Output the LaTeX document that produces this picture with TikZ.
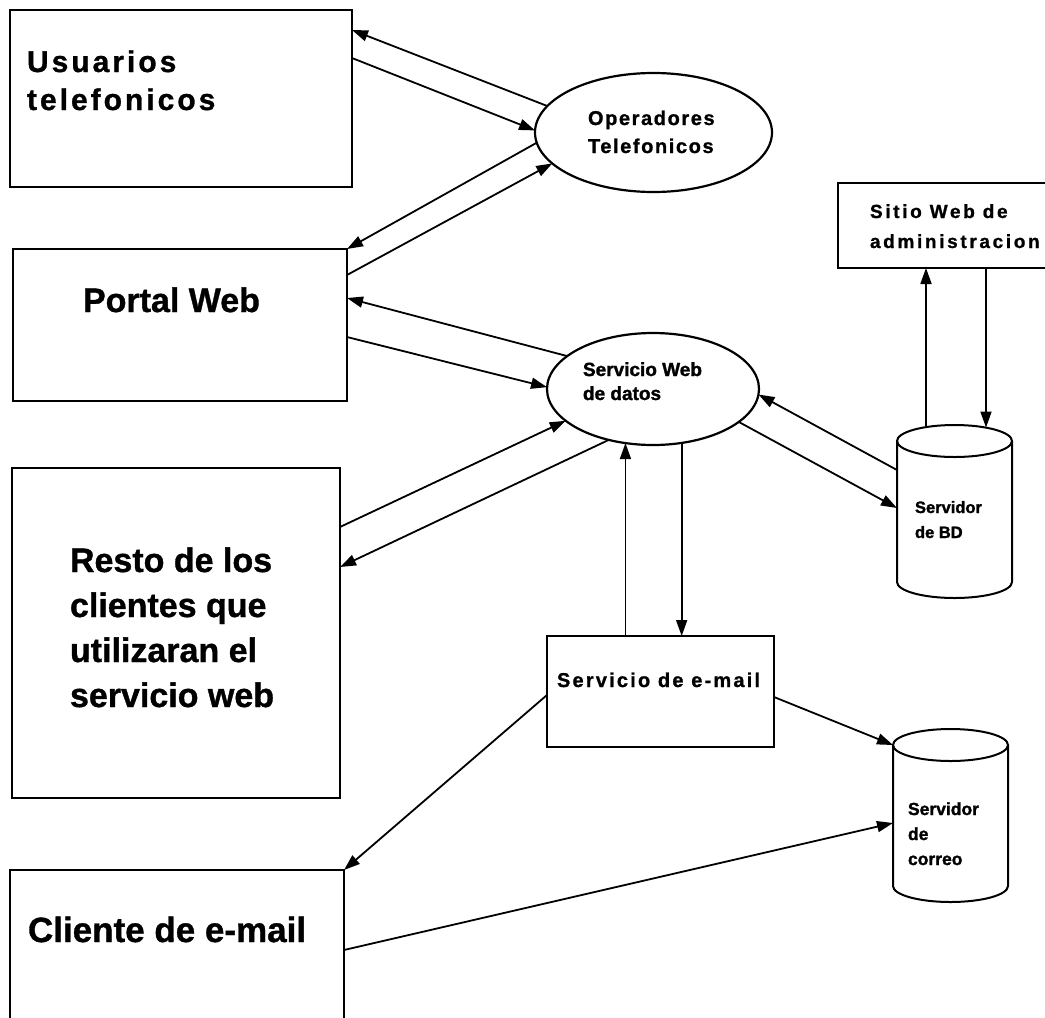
\documentclass[tikz,border=0pt]{standalone}
\usepackage{fontspec}
\setmainfont{Liberation Sans}
\usetikzlibrary{arrows.meta,shapes.geometric,calc}
\newcommand\fs[2]{\fontsize{#1}{#2}\selectfont}
\newcommand\stack[2]{\vtop{\baselineskip=#1pt\relax #2}}
\begin{document}
\begin{tikzpicture}[x=1pt,y=-1pt,
  box/.style={draw, line width=2.2pt, rectangle, inner sep=0pt, outer sep=0pt},
  oval/.style={draw, line width=2.2pt, ellipse, inner sep=0pt, outer sep=0pt},
  db/.style={rectangle, inner sep=0pt, outer sep=0pt, minimum width=115pt, minimum height=173pt},
  dbline/.style={line width=2pt},
  conn/.style={line width=1.8pt, -{Triangle[length=16pt,width=11pt]}},
  lbl/.style={anchor=base west, inner sep=0pt, outer sep=0pt}
]
\useasboundingbox (0,0) rectangle (1045,1018);
\clip (0,0) rectangle (1045,1018);
\fill[white] (0,0) rectangle (1045,1018);

% shapes
\node[box, minimum width=342pt, minimum height=177pt] (usu) at (181,98.5) {};
\node[box, minimum width=334pt, minimum height=152pt] (portal) at (180,325) {};
\node[box, minimum width=328pt, minimum height=330pt] (resto) at (176,633) {};
\node[box, minimum width=334pt, minimum height=160pt] (cliente) at (177,950) {};
\node[box, minimum width=214pt, minimum height=85pt] (sitio) at (945,225.5) {};
\node[box, minimum width=227pt, minimum height=111pt] (email) at (660.5,691.5) {};
\node[oval, minimum width=237pt, minimum height=119pt] (ops) at (653.5,132.5) {};
\node[oval, minimum width=212pt, minimum height=112pt] (svc) at (653,389) {};
\node[db] (bd) at (954.5,511.5) {};
\node[db] (cor) at (950.5,815.5) {};

% cylinders
\foreach \c in {bd,cor}{
  \draw[dbline] ($(\c.north)+(0,16)$) ellipse [x radius=57.5, y radius=16];
  \draw[dbline] ($(\c.north west)+(0,16)$) -- ($(\c.south west)+(0,-16)$)
     arc[start angle=180, end angle=0, x radius=57.5, y radius=16]
     -- ($(\c.north east)+(0,16)$);
}

% texts
\node[lbl, font={\bfseries\fs{30}{36}\addfontfeature{LetterSpace=10,FakeBold=1}}] (tusu) at (27,72)
  {\stack{38}{\hbox{Usuarios}\hbox{telefonicos}}};
\node[lbl, font={\bfseries\fs{34}{40}\addfontfeature{FakeBold=1}}] (tportal) at (83,312) {Portal Web};
\node[lbl, font={\bfseries\fs{34}{40}\addfontfeature{FakeBold=1}}] (tresto) at (70,572)
  {\stack{45}{\hbox{Resto de los}\hbox{clientes que}\hbox{utilizaran el}\hbox{servicio web}}};
\node[lbl, font={\bfseries\fs{35}{40}\addfontfeature{FakeBold=1}}] (tcliente) at (28,942) {Cliente de e-mail};
\node[lbl, font={\bfseries\fs{20}{24}\addfontfeature{LetterSpace=8,FakeBold=1}}] (tops) at (588,125)
  {\stack{28}{\hbox{Operadores}\hbox{Telefonicos}}};
\node[lbl, font={\bfseries\fs{19}{22}\addfontfeature{FakeBold=1.5}}] (tsvc) at (583,376)
  {\stack{24}{\hbox{Servicio Web}\hbox{de datos}}};
\node[lbl, font={\bfseries\fs{19}{22}\addfontfeature{LetterSpace=14,FakeBold=1}}] (tsitio) at (870,218)
  {\stack{30}{\hbox{Sitio Web de}\hbox{administracion}}};
\node[lbl, font={\bfseries\fs{20}{24}\addfontfeature{LetterSpace=11,FakeBold=1}}] (temail) at (557,687) {Servicio de e-mail};
\node[lbl, font={\bfseries\fs{16.5}{20}\addfontfeature{FakeBold=1.5}}] (tbd) at (915,513)
  {\stack{25}{\hbox{Servidor}\hbox{de BD}}};
\node[lbl, font={\bfseries\fs{17.5}{20}\addfontfeature{FakeBold=1.5}}] (tcor) at (908,815)
  {\stack{25}{\hbox{Servidor}\hbox{de}\hbox{correo}}};

% connectors
\draw[conn] (ops.166) -- ($(usu.north east)+(0,20)$);
\draw[conn] ($(usu.north east)+(0,48)$) -- (ops.179);
\draw[conn] (ops.185) -- (portal.north east);
\draw[conn] ($(portal.north east)+(0,26)$) -- (ops.197);
\draw[conn] (svc.159) -- ($(portal.north east)+(0,49)$);
\draw[conn] ($(portal.north east)+(0,88)$) -- (svc.179);
\draw[conn] ($(resto.north east)+(0,59)$) -- (svc.200);
\draw[conn] (svc.229) -- ($(resto.north east)+(0,99)$);
\draw[conn] ($(bd.west)+(0,-41.5)$) -- (svc.357);
\draw[conn] (svc.339) -- ($(bd.west)+(0,-3.5)$);
\draw[conn] ($(bd.north)+(-28.5,2)$) -- ($(sitio.south west)+(88,0)$);
\draw[conn] ($(sitio.south west)+(148,0)$) -- ($(bd.north)+(31.5,2.5)$);
\draw[conn] (svc.243 |- email.north) -- (svc.243);
\draw[conn] (svc.298) -- (svc.298 |- email.north);
\draw[conn] ($(email.west)+(0,3.5)$) -- (cliente.north east);
\draw[conn] ($(email.east)+(0,5.5)$) -- ($(cor.north west)+(0,16)$);
\draw[conn] ($(cliente.north east)+(0,80)$) -- ($(cor.west)+(0,7.5)$);
\end{tikzpicture}
\end{document}
